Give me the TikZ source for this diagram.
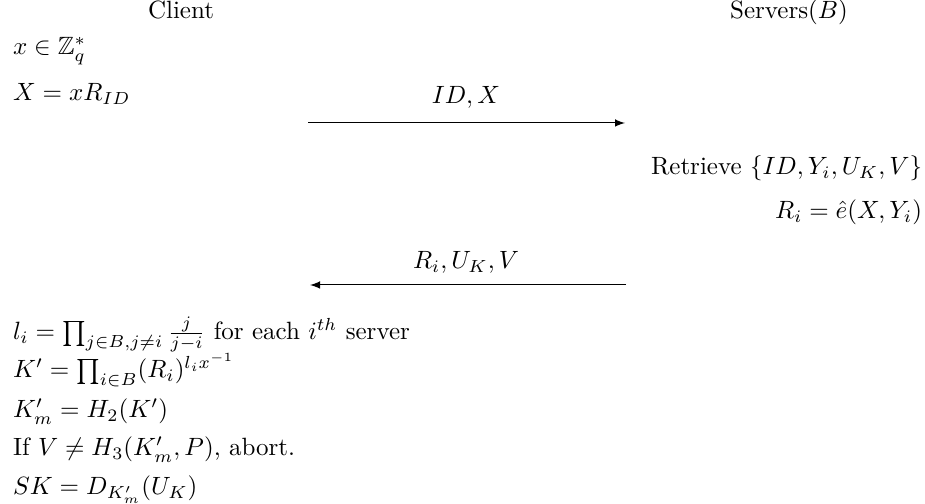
\documentclass[tikz,border=0pt]{standalone}
\usepackage{amsmath,amssymb}
\begin{document}
\begin{tikzpicture}[x=0.4pt,y=-0.4pt,
  txt/.style={inner sep=0pt, outer sep=0pt},
  msg/.style={draw, line width=0.4pt, -latex}]
\useasboundingbox (0,0) rectangle (925,504);
% headers
\node[txt, anchor=base] (client) at (181,19) {Client};
\node[txt, anchor=base] (servers) at (789,19) {Servers$(B)$};
% client first steps
\node[txt, anchor=base west] (c1) at (13,55) {$x \in \mathbb{Z}_q^*$};
\node[txt, anchor=base west] (c2) at (13,101) {$X = xR_{ID}$};
% message 1
\coordinate (m1s) at (308,123);
\coordinate (m1e) at (625,123);
\draw[msg] (m1s) -- (m1e);
\node[txt, anchor=base] (l1) at (466,104) {$ID, X$};
% server steps
\node[txt, anchor=base east] (s1) at (922,175) {Retrieve $\{ID, Y_i, U_K, V\}$};
\node[txt, anchor=base east] (s2) at (922,219) {$R_i = \hat{e}(X, Y_i)$};
% message 2
\coordinate (m2s) at (626,285);
\coordinate (m2e) at (310,285);
\draw[msg] (m2s) -- (m2e);
\node[txt, anchor=base] (l2) at (466,269) {$R_i, U_K, V$};
% client final steps
\node[txt, anchor=base west] (c3) at (13,340) {$l_i = \prod_{j\in B, j\neq i} \frac{j}{j-i}$ for each $i^{th}$ server};
\node[txt, anchor=base west] (c4) at (13,378) {$K' = \prod_{i\in B} (R_i)^{l_i x^{-1}}$};
\node[txt, anchor=base west] (c5) at (13,418) {$K'_m = H_2(K')$};
\node[txt, anchor=base west] (c6) at (13,456) {If $V \neq H_3(K'_m, P)$, abort.};
\node[txt, anchor=base west] (c7) at (13,495) {$SK = D_{K'_m}(U_K)$};
\end{tikzpicture}
\end{document}
